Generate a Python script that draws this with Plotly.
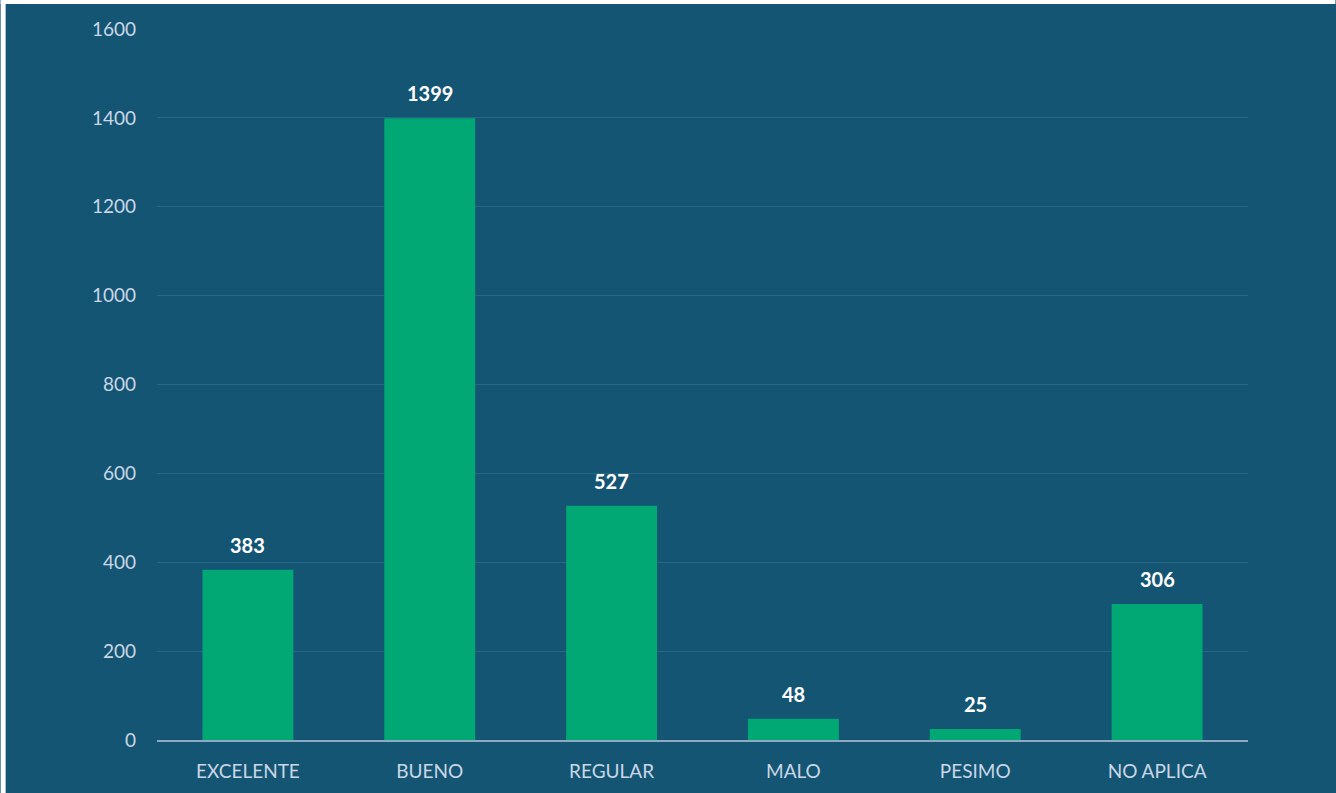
import plotly.graph_objects as go

categories = ["EXCELENTE", "BUENO", "REGULAR", "MALO", "PESIMO", "NO APLICA"]
values = [383, 1399, 527, 48, 25, 306]
tick_vals = [0, 200, 400, 600, 800, 1000, 1200, 1400, 1600]

BG = "#155574"
BAR = "#02a874"
TXT = "#c9d7e6"

W, H = 1336, 793
L, R, T, B = 156.5, 87.5, 29, 53
pw, ph = W - L - R, H - T - B

fig = go.Figure(go.Bar(
    x=categories, y=values,
    marker=dict(color=BAR, line=dict(width=0)),
    width=0.5,
    hoverinfo="x+y",
))

for c, v in zip(categories, values):
    fig.add_annotation(
        x=c, y=v, text=str(v), showarrow=False,
        yanchor="middle", yshift=25,
        font=dict(family="Lato", size=20, color="#ffffff", weight="bold"),
    )

fig.update_layout(
    width=W, height=H,
    margin=dict(l=L, r=R, t=T, b=B),
    paper_bgcolor=BG,
    plot_bgcolor="rgba(0,0,0,0)",
    showlegend=False,
    font=dict(family="Lato", size=19, color=TXT),
    shapes=[
        dict(type="rect", xref="paper", yref="paper", layer="below",
             x0=-L / pw, x1=(5 - L) / pw, y0=-B / ph, y1=(H - B) / ph,
             fillcolor="#ffffff", line=dict(width=0)),
        dict(type="rect", xref="paper", yref="paper", layer="below",
             x0=-L / pw, x1=(W - L) / pw, y0=(H - B - 4) / ph, y1=(H - B) / ph,
             fillcolor="#ffffff", line=dict(width=0)),
    ],
    xaxis=dict(
        showgrid=False, showline=True, linecolor="#8eaac2", linewidth=2,
        ticks="", tickfont=dict(size=19, color=TXT), ticklabelstandoff=13,
    ),
    yaxis=dict(
        range=[0, 1600], tickvals=tick_vals,
        showgrid=True, gridcolor="#28678a", gridwidth=1,
        zeroline=False, showline=False, ticks="",
        tickfont=dict(size=19, color=TXT), ticklabelstandoff=20,
    ),
)

fig.write_html("out.html", config={"displayModeBar": False},
               post_script="document.body.style.margin='0';")
